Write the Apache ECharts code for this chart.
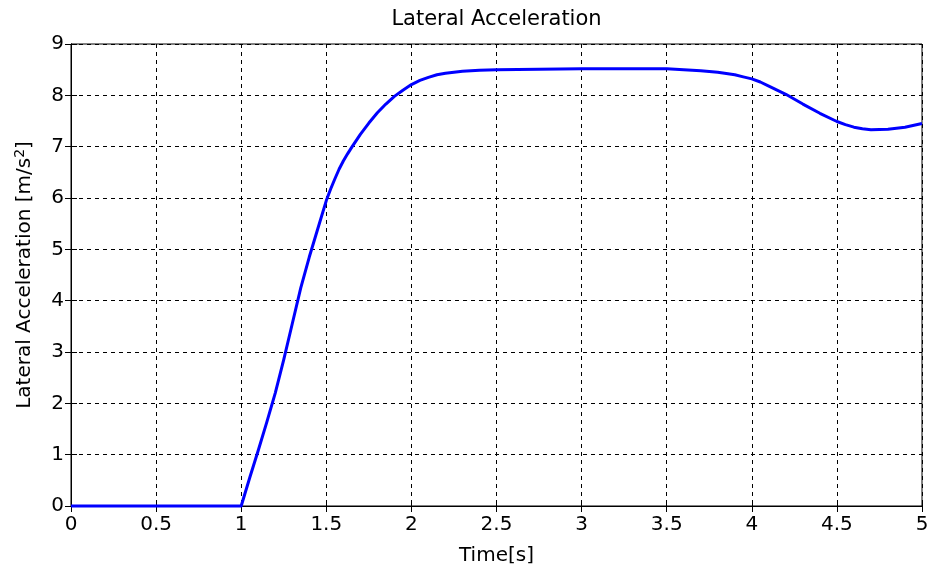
<!DOCTYPE html>
<html>
<head>
<meta charset="utf-8">
<script src="https://cdn.jsdelivr.net/npm/echarts@6/dist/echarts.min.js"></script>
<style>
  html, body { margin: 0; padding: 0; background: #fff; }
  #chart { width: 934px; height: 571px; }
</style>
</head>
<body>
<div id="chart"></div>
<script>
// Time samples [s] and the lateral acceleration response [m/s^2]
const timeSec = [0, 0.5, 1.0, 1.05, 1.1, 1.15, 1.2, 1.25, 1.3, 1.35, 1.4, 1.45, 1.5, 1.525,
  1.55, 1.575, 1.6, 1.625, 1.65, 1.7, 1.75, 1.8, 1.85, 1.9, 1.95, 2.0, 2.05, 2.1, 2.15, 2.2, 2.3, 2.4, 2.5, 3.0,
  3.5, 3.6, 3.7, 3.8, 3.9, 3.95, 4.0, 4.05, 4.1, 4.2, 4.3, 4.4, 4.5, 4.55, 4.6, 4.65, 4.7, 4.8, 4.9, 5.0];
const latAccel = [0, 0, 0, 0.55, 1.08, 1.63, 2.2, 2.85, 3.55, 4.25, 4.85, 5.4, 5.95, 6.17,
  6.37, 6.56, 6.72, 6.86, 6.99, 7.24, 7.46, 7.66, 7.83, 7.98, 8.1, 8.21, 8.29, 8.35, 8.4, 8.43, 8.47, 8.49, 8.5, 8.52,
  8.52, 8.5, 8.48, 8.45, 8.4, 8.36, 8.32, 8.26, 8.18, 8.02, 7.83, 7.65, 7.49, 7.43, 7.38, 7.35, 7.33, 7.34, 7.38, 7.45];

const xTickStep = 0.5;
const yTickStep = 1;

const FONT = '"DejaVu Sans", "Liberation Sans", sans-serif';
const PLOT = { left: 71, right: 12, top: 44, bottom: 65 };
const W = 934, H = 571;
const plotCenterX = PLOT.left + (W - PLOT.left - PLOT.right) / 2;
const plotCenterY = PLOT.top + (H - PLOT.top - PLOT.bottom) / 2;

const chart = echarts.init(document.getElementById('chart'), null, { renderer: 'canvas' });

const points = timeSec.map((t, i) => [t, latAccel[i]]);

const gridLine = { show: true, lineStyle: { color: '#000', type: [4, 4], width: 1 } };
const tickStyle = { show: true, inside: true, length: 6, lineStyle: { color: '#000' } };

chart.setOption({
  animation: false,
  backgroundColor: '#fff',
  grid: Object.assign({ show: true, borderColor: '#000', borderWidth: 1, backgroundColor: '#fff' }, PLOT),
  graphic: [
    {
      type: 'text', x: plotCenterX, y: 20, silent: true,
      style: { text: 'Lateral Acceleration', font: '21px ' + FONT, fill: '#000',
        align: 'center', verticalAlign: 'middle' }
    },
    {
      type: 'text', x: plotCenterX, y: 556, silent: true,
      style: { text: 'Time[s]', font: '20px ' + FONT, fill: '#000',
        align: 'center', verticalAlign: 'middle' }
    },
    {
      type: 'text', x: 25, y: plotCenterY, rotation: Math.PI / 2, silent: true,
      style: {
        text: 'Lateral Acceleration [m/s{sup|2}]',
        font: '20px ' + FONT, fill: '#000', align: 'center', verticalAlign: 'middle',
        rich: { sup: { font: '14px ' + FONT, fill: '#000', verticalAlign: 'top', padding: [0, 0, 10, 0] } }
      }
    }
  ],
  xAxis: [{
    type: 'value', min: 0, max: 5, interval: xTickStep,
    axisLine: { show: true, onZero: false, lineStyle: { color: '#000', width: 1 } },
    axisTick: tickStyle,
    axisLabel: { fontFamily: FONT, fontSize: 20, color: '#000', margin: 9,
      formatter: v => String(v) },
    splitLine: gridLine
  }, {
    type: 'value', position: 'top', min: 0, max: 5, interval: xTickStep,
    axisLine: { show: true, lineStyle: { color: '#000' } },
    axisTick: tickStyle,
    axisLabel: { show: false }, splitLine: { show: false }
  }],
  yAxis: [{
    type: 'value', min: 0, max: 9, interval: yTickStep,
    axisLine: { show: true, lineStyle: { color: '#000', width: 1 } },
    axisTick: tickStyle,
    axisLabel: { fontFamily: FONT, fontSize: 20, color: '#000', margin: 7 },
    splitLine: gridLine
  }, {
    type: 'value', position: 'right', min: 0, max: 9, interval: yTickStep,
    axisLine: { show: true, lineStyle: { color: '#000' } },
    axisTick: tickStyle,
    axisLabel: { show: false }, splitLine: { show: false }
  }],
  series: [{
    type: 'line',
    data: points,
    smooth: false,
    showSymbol: false,
    lineStyle: { color: '#0000ff', width: 3, join: 'round' },
    clip: false
  }]
});
</script>
</body>
</html>
